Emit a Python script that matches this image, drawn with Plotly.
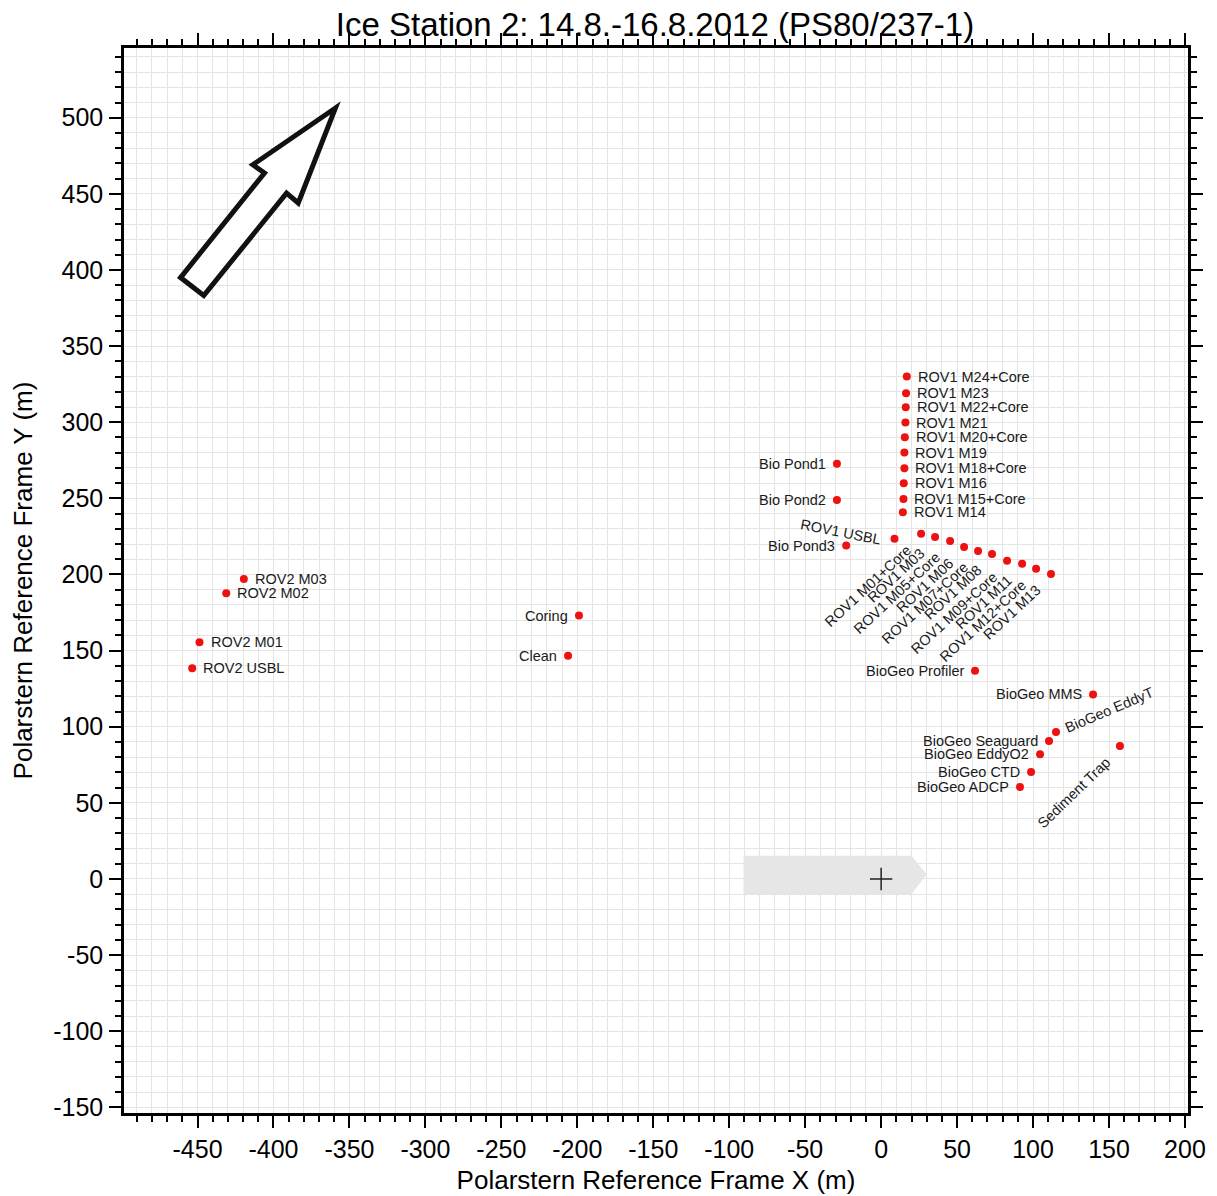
import plotly.graph_objects as go

# ---------------- data ----------------
# labels placed to the LEFT of their dot
left_names = ["Coring", "Clean", "Bio Pond1", "Bio Pond2", "Bio Pond3",
              "BioGeo Profiler", "BioGeo MMS", "BioGeo Seaguard",
              "BioGeo EddyO2", "BioGeo CTD", "BioGeo ADCP"]
left_x = [-198.9, -206.1, -29.1, -29.1, -23.0, 61.8, 139.5, 110.5, 104.6, 98.7, 91.4]
left_y = [173.0, 146.7, 272.7, 249.0, 219.0, 136.7, 121.2, 90.7, 82.0, 70.3, 60.4]

# labels placed to the RIGHT of their dot
right_names = ["ROV2 USBL", "ROV2 M01", "ROV2 M02", "ROV2 M03",
               "ROV1 M14", "ROV1 M15+Core", "ROV1 M16", "ROV1 M18+Core",
               "ROV1 M19", "ROV1 M20+Core", "ROV1 M21", "ROV1 M22+Core",
               "ROV1 M23", "ROV1 M24+Core"]
right_x = [-453.5, -448.7, -431.1, -419.5,
           14.3, 14.7, 14.9, 15.3, 15.3, 15.6, 16.0, 16.2, 16.4, 16.9]
right_y = [138.4, 155.5, 187.7, 197.1,
           240.9, 249.5, 260.0, 269.8, 280.1, 290.2, 299.8, 309.9, 319.1, 330.0]

# labels rotated, ending below-left of their dot
diag_names = ["ROV1 M01+Core", "ROV1 M03", "ROV1 M05+Core", "ROV1 M06",
              "ROV1 M07+Core", "ROV1 M08", "ROV1 M09+Core", "ROV1 M11",
              "ROV1 M12+Core", "ROV1 M13"]
diag_x = [26.3, 35.5, 45.4, 54.6, 63.8, 73.0, 82.9, 92.8, 102.0, 111.8]
diag_y = [226.7, 224.7, 222.0, 218.0, 215.5, 213.5, 209.0, 207.0, 203.7, 200.4]

trap_name = ["Sediment Trap"]
trap_x = [157.2]
trap_y = [87.4]

usbl_name = ["ROV1 USBL"]
usbl_x = [8.8]
usbl_y = [223.4]

eddyt_name = ["BioGeo EddyT"]
eddyt_x = [115.1]
eddyt_y = [96.6]

ref_x = [0]
ref_y = [0]

x_ticks = list(range(-450, 201, 50))
y_ticks = list(range(-150, 501, 50))

# ---------------- style ----------------
FONT = "Liberation Sans, Arial, Helvetica, sans-serif"
RED = "#ee1111"
TXT = "#1a1a1a"
LBL = 14.5
GRID = "#e4e4e4"

all_x = left_x + right_x + diag_x + trap_x + usbl_x + eddyt_x
all_y = left_y + right_y + diag_y + trap_y + usbl_y + eddyt_y

fig = go.Figure()

# ship outline (decoration) and north arrow
fig.add_shape(type="path",
              path="M -90.6,15.3 L 20,15.3 L 30,3 L 20,-9.9 L -90.6,-9.9 Z",
              xref="x", yref="y", fillcolor="#e6e6e6", line=dict(width=0),
              layer="between")
fig.add_shape(type="path",
              path=("M -359.2,506.4 L -413.6,469.1 L -405.9,463.7 L -461.2,395.0 "
                    "L -445.9,383.2 L -391.4,450.5 L -383.7,444.0 Z"),
              xref="x", yref="y", fillcolor="white",
              line=dict(color="#111111", width=5), layer="between")

fig.add_trace(go.Scatter(x=all_x, y=all_y, mode="markers",
                         marker=dict(color=RED, size=8, line=dict(width=0)),
                         hoverinfo="skip", showlegend=False))
fig.add_trace(go.Scatter(x=ref_x, y=ref_y, mode="markers",
                         marker=dict(symbol="cross-thin", size=16,
                                     line=dict(color="#222222", width=1.5)),
                         hoverinfo="skip", showlegend=False))

ann = []
def add(name, x, y, **kw):
    d = dict(x=x, y=y, text=name, showarrow=False, xref="x", yref="y",
             font=dict(family=FONT, size=LBL, color=TXT))
    d.update(kw)
    ann.append(d)

for n, x, y in zip(left_names, left_x, left_y):
    add(n, x, y, xanchor="right", yanchor="middle", xshift=-9)
for n, x, y in zip(right_names, right_x, right_y):
    add(n, x, y, xanchor="left", yanchor="middle", xshift=9)
for n, x, y in zip(diag_names, diag_x, diag_y):
    add(n, x, y, xanchor="right", yanchor="top", textangle=-43, xshift=-4, yshift=-5)
for n, x, y in zip(trap_name, trap_x, trap_y):
    add(n, x, y, xanchor="right", yanchor="top", textangle=-44, xshift=-4, yshift=-6)
for n, x, y in zip(usbl_name, usbl_x, usbl_y):
    add(n, x, y, xanchor="right", yanchor="bottom", textangle=11, xshift=-10, yshift=-11)
for n, x, y in zip(eddyt_name, eddyt_x, eddyt_y):
    add(n, x, y, xanchor="left", yanchor="bottom", textangle=-23, xshift=4, yshift=-6)

axis_common = dict(
    ticks="outside", ticklen=12, tickwidth=2, tickcolor="black",
    showline=True, linewidth=2.5, linecolor="black", mirror="allticks",
    showgrid=True, gridcolor=GRID, gridwidth=1, zeroline=False,
    automargin=False,
    tickfont=dict(family=FONT, size=25, color="black"),
    minor=dict(dtick=10, tick0=0, ticks="outside", ticklen=6, tickwidth=1.5,
               tickcolor="black", showgrid=True, gridcolor=GRID, gridwidth=1),
)

fig.update_xaxes(range=[-498.4, 202], tickmode="array", tickvals=x_ticks,
                 ticktext=[str(v) for v in x_ticks],
                 title=dict(text="Polarstern Reference Frame X (m)", standoff=10,
                            font=dict(family=FONT, size=26, color="black")),
                 ticklabelstandoff=0, **axis_common)
fig.update_yaxes(range=[-153.7, 545.8], tickmode="array", tickvals=y_ticks,
                 ticktext=[str(v) for v in y_ticks],
                 title=dict(text="Polarstern Reference Frame Y (m)", standoff=18,
                            font=dict(family=FONT, size=26, color="black")),
                 ticklabelstandoff=1, **axis_common)

# page body adds an 8px margin, so the figure is 8px smaller and shifted
fig.update_layout(
    width=1209, height=1188,
    margin=dict(l=116, r=29, t=40, b=83, autoexpand=False),
    paper_bgcolor="white", plot_bgcolor="white",
    title=dict(text="Ice Station 2: 14.8.-16.8.2012 (PS80/237-1)",
               x=647 / 1209, xanchor="center", y=1 - 16 / 1188, yanchor="middle",
               yref="container", xref="container", automargin=False,
               font=dict(family=FONT, size=33, color="black")),
    annotations=ann,
    showlegend=False,
)

fig.write_html("out.html")
